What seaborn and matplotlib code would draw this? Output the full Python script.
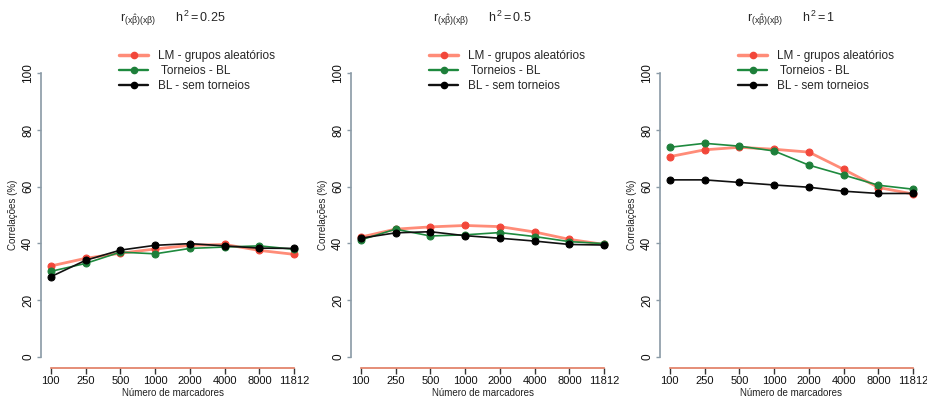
import matplotlib
matplotlib.use("Agg")
import matplotlib.pyplot as plt
import seaborn as sns
import pandas as pd
from matplotlib.lines import Line2D

sns.set_theme(style="ticks")
plt.rcParams['font.family'] = ['Liberation Sans', 'DejaVu Sans']
plt.rcParams['mathtext.fontset'] = 'custom'
plt.rcParams['mathtext.rm'] = 'Liberation Sans'
plt.rcParams['mathtext.it'] = 'Liberation Sans'
plt.rcParams['mathtext.bf'] = 'Liberation Sans:bold'
plt.rcParams['xtick.bottom'] = True
plt.rcParams['xtick.major.size'] = 4
plt.rcParams['xtick.major.width'] = 1

markers_n = ["100", "250", "500", "1000", "2000", "4000", "8000", "11812"]
series_names = ["LM - grupos aleatórios", " Torneios - BL", "BL - sem torneios"]
h2_labels = ["0.25", "0.5", "1"]

# panel h2 = 0.25
lm_025 = [32.0, 34.7, 36.5, 38.0, 39.3, 39.6, 37.5, 36.1]
tor_025 = [30.1, 32.9, 36.9, 36.3, 38.2, 38.7, 39.1, 37.9]
bl_025 = [28.2, 34.0, 37.6, 39.3, 39.9, 39.1, 38.3, 38.2]
# panel h2 = 0.5
lm_05 = [42.2, 45.0, 45.8, 46.3, 45.9, 44.0, 41.4, 39.6]
tor_05 = [41.2, 45.0, 42.6, 43.0, 43.8, 42.4, 40.6, 39.9]
bl_05 = [41.8, 43.7, 44.1, 42.7, 41.8, 40.8, 39.6, 39.4]
# panel h2 = 1
lm_1 = [70.6, 73.0, 73.9, 73.2, 72.2, 66.1, 59.7, 57.4]
tor_1 = [73.9, 75.3, 74.3, 72.6, 67.6, 64.1, 60.5, 59.1]
bl_1 = [62.4, 62.4, 61.5, 60.6, 59.8, 58.4, 57.6, 57.6]

panels = [
    [lm_025, tor_025, bl_025],
    [lm_05, tor_05, bl_05],
    [lm_1, tor_1, bl_1],
]

colors = ["#F2473A", "#1E7F3A", "#000000"]
line_colors = ["#FF8C78", "#1E8A3E", "#111111"]
lws = [2.0, 1.2, 1.2]

fig = plt.figure(figsize=(9.27, 4.03), dpi=100)
lefts = [41, 351, 660]
W, H = 927, 403
axes_w = 263
top_px, bot_px = 62, 368

for i, (left, data, h2) in enumerate(zip(lefts, panels, h2_labels)):
    ax = fig.add_axes([left / W, (H - bot_px) / H, axes_w / W, (bot_px - top_px) / H])
    pos = list(range(len(markers_n)))
    for j, (vals, name) in enumerate(zip(data, series_names)):
        df = pd.DataFrame({"pos": pos, "val": vals})
        sns.lineplot(data=df, x="pos", y="val", ax=ax, color=line_colors[j],
                     linewidth=lws[j], marker="o", markersize=5,
                     markerfacecolor=colors[j], markeredgecolor=colors[j],
                     zorder=3 + j, legend=False)
    ax.set_xlim(-0.28, 7.28)
    ax.set_ylim(-4, 104)
    ax.set_xticks(pos)
    ax.set_xticklabels(markers_n, fontsize=8, color="#111111")
    ax.set_yticks([0, 20, 40, 60, 80, 100])
    ax.set_yticklabels(["0", "20", "40", "60", "80", "100"], fontsize=8.5,
                       rotation=90, va="center", color="#111111")
    ax.set_xlabel("Número de marcadores", fontsize=7, labelpad=1.5, color="#222222")
    ax.set_ylabel("Correlações (%)", fontsize=7, labelpad=3, color="#222222")
    for s in ["top", "right"]:
        ax.spines[s].set_visible(False)
    ax.spines["left"].set_bounds(0, 100)
    ax.spines["left"].set_color("#8A9AA6")
    ax.spines["left"].set_linewidth(1.2)
    ax.spines["bottom"].set_bounds(0, 7)
    ax.spines["bottom"].set_color("#E07A60")
    ax.spines["bottom"].set_linewidth(1.2)
    ax.tick_params(axis="y", which="major", direction="out", length=3, color="#8A9AA6",
                   width=1, pad=2, left=True)
    ax.tick_params(axis="x", which="major", direction="out", length=4, color="#333333",
                   width=1, pad=2, bottom=True)
    ax.grid(False)
    ax.set_facecolor("white")

    handles = [Line2D([0], [0], color=line_colors[k], lw=lws[k] + 0.5, marker="o",
                      markersize=4.5, markerfacecolor=colors[k],
                      markeredgecolor=colors[k]) for k in range(3)]
    ax.legend(handles, series_names, loc="upper left", bbox_to_anchor=(0.28, 1.055),
              frameon=False, fontsize=8.5, handlelength=2.4, handletextpad=0.9,
              labelspacing=0.25, borderaxespad=0)

    ax.text(0.5, 1 + 44 / (bot_px - top_px),
            r"$\mathregular{r}_{(x\hat{\beta})(x\beta)}$" + "      " + r"$\mathregular{h^2 = " + h2 + "}$",
            transform=ax.transAxes, ha="center", va="center", fontsize=9)

fig.savefig("out.png", dpi=100)
